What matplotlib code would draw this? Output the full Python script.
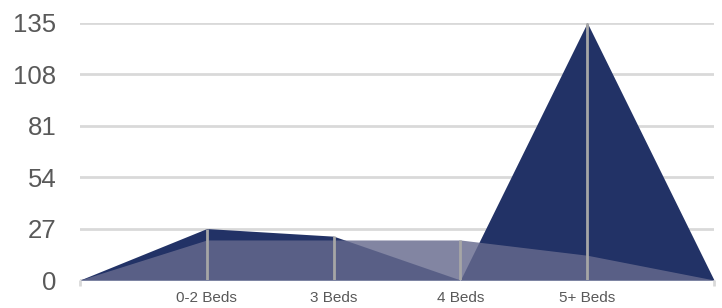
import numpy as np
import matplotlib
matplotlib.use("Agg")
import matplotlib.pyplot as plt

plt.rcParams['font.family'] = ['Liberation Sans', 'DejaVu Sans']

# categories along x (first and last are empty edge points)
categories = ["", "0-2 Beds", "3 Beds", "4 Beds", "5+ Beds", ""]
series_dark = [0, 27, 23, 0, 135, 0]
series_light = [0, 21, 21, 21, 13, 0]
y_ticks = [0, 27, 54, 81, 108, 135]

x = np.arange(len(categories))

fig = plt.figure(figsize=(7.22, 3.08), dpi=100)
ax = fig.add_axes([80/722, 1 - 280/308, 634/722, 257.3/308])

#gridlines first
for yt in y_ticks:
    ax.axhline(yt, color='#d9d9d9', lw=2, zorder=0)

#the two area series
ax.fill_between(x, 0, series_dark, color='#223266', lw=0, zorder=1)
ax.fill_between(x, 0, series_light, color='#666a8e', alpha=0.82, lw=0, zorder=2)

#drop lines at each category
tops = np.maximum(series_dark, series_light)
ax.vlines(x[1:-1], 0, tops[1:-1], color='#a6a6a6', lw=2, zorder=3)

ax.set_xlim(0, len(categories) - 1)
ax.set_ylim(0, 135)

ax.set_xticks(x[1:-1])
ax.set_xticklabels(categories[1:-1], fontsize=11, color='#595959')
ax.set_xticks(x, minor=True)
ax.tick_params(axis='x', which='major', length=0, pad=8)
ax.tick_params(axis='x', which='minor', length=4, width=2, color='#d9d9d9')

ax.set_yticks(y_ticks)
ax.set_yticklabels([str(v) for v in y_ticks], fontsize=18.5, color='#595959')
ax.tick_params(axis='y', length=0, pad=17)

for s in ax.spines.values():
    s.set_visible(False)

fig.savefig("out.png", dpi=100)
